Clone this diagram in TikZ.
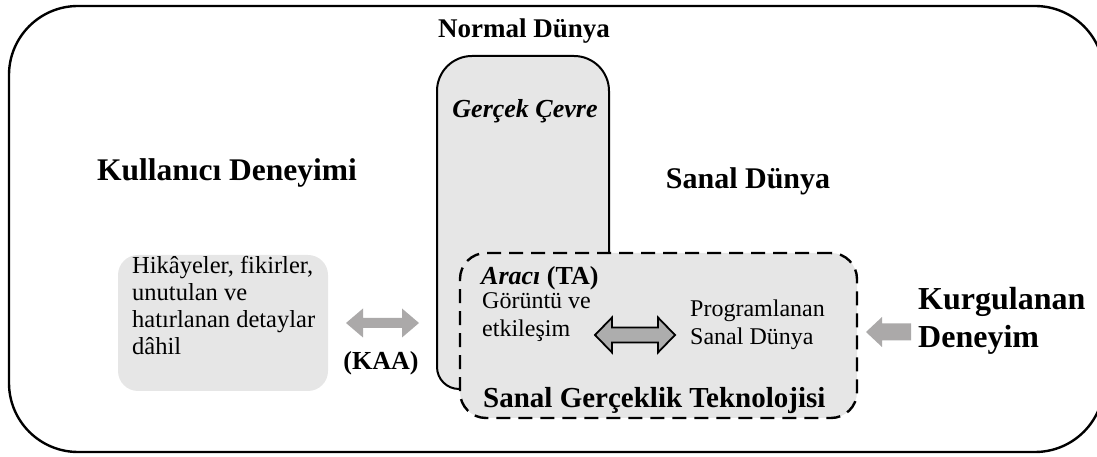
\documentclass[tikz,border=0pt]{standalone}
\usepackage{fontspec}
\setmainfont{Liberation Serif}
\usetikzlibrary{positioning}
\definecolor{boxgray}{HTML}{E6E6E6}
\definecolor{arrowgray}{HTML}{ABA9A9}
\definecolor{midgray}{HTML}{ADADAD}
\tikzset{
  frame/.style={draw=black, line width=2.4pt, rounded corners=69pt},
  realbox/.style={draw=black, line width=2pt, fill=boxgray},
  vrbox/.style={draw=black, fill=boxgray, line width=2.4pt, dash pattern=on 14pt off 8pt,
    rounded corners=26pt, inner sep=0pt},
  notebox/.style={fill=boxgray, rounded corners=20pt, inner sep=0pt},
  heading/.style={font=\bfseries\fontsize{#1}{#1}\selectfont, inner sep=0pt},
  body/.style 2 args={font=\fontsize{#1}{#2}\selectfont, inner sep=0pt, align=left},
  softarrow/.style={fill=arrowgray},
  hollowarrow/.style={fill=midgray, draw=black, line width=1.8pt, line join=miter},
}
\begin{document}
\begin{tikzpicture}[x=1pt, y=1pt]
\useasboundingbox (0,0) rectangle (1097,457);

% outer frame of the whole experience
\draw[frame] (9,5) rectangle (1104,451);

% the real surroundings
\draw[realbox] (609,68) -- (609,366) arc[start angle=0, end angle=90, radius=35]
  -- (472,401) arc[start angle=90, end angle=180, radius=35]
  -- (437,90) arc[start angle=180, end angle=270, radius=22] -- cycle;

% virtual reality technology
\node[vrbox, minimum width=397pt, minimum height=165pt] (vr) at (658.5,121.5) {};

% user-side note box
\node[notebox, minimum width=210pt, minimum height=136pt] (note) at (223,134) {};

% titles
\node[heading=27pt, anchor=base] (normal) at (524,419) {Normal Dünya};
\node[font=\bfseries\itshape\fontsize{26pt}{26pt}\selectfont, inner sep=0pt, anchor=base] (real) at (525,339) {Gerçek Çevre};
\node[heading=31.5pt, anchor=base] (user) at (227,276) {Kullanıcı Deneyimi};
\node[heading=30pt, anchor=base] (virtual) at (748,268) {Sanal Dünya};

% note text
\node[body={24.5pt}{26.8pt}, anchor=north west] (notetext) at (132,200.5)
  {Hikâyeler, fikirler,\\unutulan ve\\hatırlanan detaylar\\dâhil};

% KAA exchange
\fill[softarrow] (346,134) -- (363,148.5) -- (363,139) -- (402,139) -- (402,148.5)
  -- (419,134) -- (402,119.5) -- (402,129) -- (363,129) -- (363,119.5) -- cycle;
\node[heading=26pt, anchor=base] (kaa) at (381,87) {(KAA)};

% inside the technology box
\node[font=\fontsize{26pt}{26pt}\selectfont, inner sep=0pt, anchor=base west] (tool) at (481,172)
  {\textbf{\textit{Aracı}} \textbf{(TA)}};
\node[body={24pt}{28pt}, anchor=north west] (display) at (482,165) {Görüntü ve\\etkileşim};
\node[body={24pt}{28pt}, anchor=north west] (prog) at (690,157) {Programlanan\\Sanal Dünya};
\draw[hollowarrow] (595,122) -- (612,139.5) -- (612,129.5) -- (658,129.5) -- (658,139.5)
  -- (675,122) -- (658,104.5) -- (658,114.5) -- (612,114.5) -- (612,104.5) -- cycle;
\node[heading=29pt, anchor=base west] (tech) at (483,49) {Sanal Gerçeklik Teknolojisi};

% designed experience
\fill[softarrow] (866,125) -- (882,140) -- (882,133.5) -- (911,133.5) -- (911,116.5)
  -- (882,116.5) -- (882,110) -- cycle;
\node[font=\bfseries\fontsize{32pt}{38pt}\selectfont, inner sep=0pt, align=left, anchor=north west]
  (designed) at (918,170) {Kurgulanan\\Deneyim};
\end{tikzpicture}
\end{document}
